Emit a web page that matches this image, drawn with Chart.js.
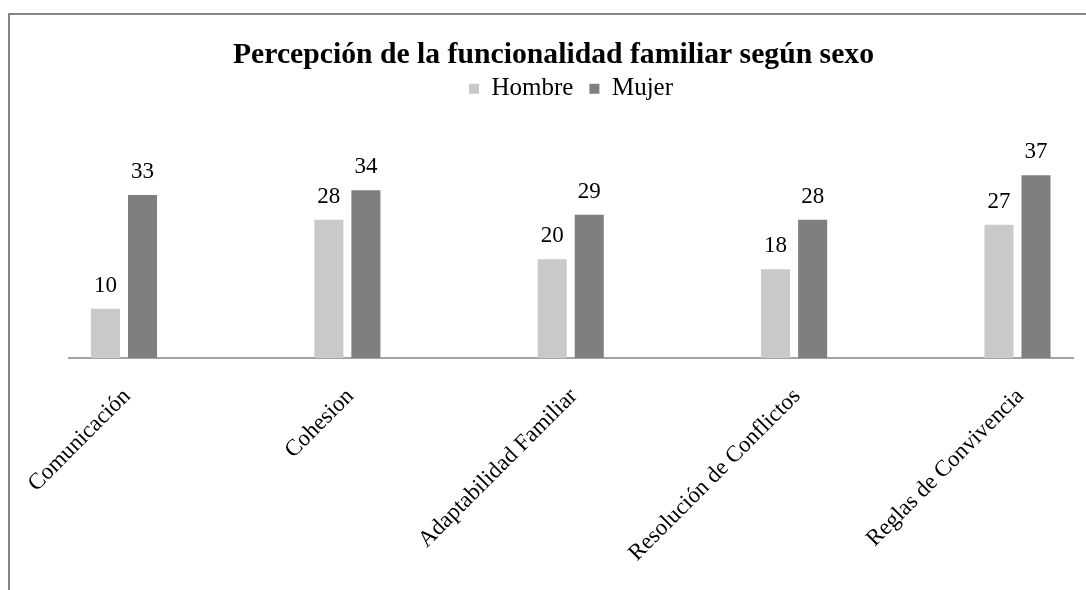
<!DOCTYPE html>
<html>
<head>
<meta charset="utf-8">
<script src="https://cdn.jsdelivr.net/npm/chart.js@4/dist/chart.umd.min.js"></script>
<style>
  html, body { margin: 0; padding: 0; background: #ffffff; }
  #wrap { width: 1086px; height: 590px; position: relative; }
</style>
</head>
<body>
<div id="wrap"><canvas id="chart" width="1086" height="590"></canvas></div>
<script>
// Categories, series values and texts
const categories = ['Comunicación', 'Cohesion', 'Adaptabilidad Familiar', 'Resolución de Conflictos', 'Reglas de Convivencia'];
const hombre = [10, 28, 20, 18, 27];
const mujer = [33, 34, 29, 28, 37];
const seriesNames = ['Hombre', 'Mujer'];
const titleText = 'Percepción de la funcionalidad familiar según sexo';

const SERIF = "'Liberation Serif', 'Times New Roman', serif";

// Thin grey frame around the chart object (top and left edges are visible)
const framePlugin = {
  id: 'frame',
  beforeDraw(chart) {
    const ctx = chart.ctx;
    ctx.save();
    ctx.fillStyle = '#ffffff';
    ctx.fillRect(0, 0, chart.width, chart.height);
    ctx.strokeStyle = '#868686';
    ctx.lineWidth = 2;
    ctx.beginPath();
    ctx.moveTo(9, chart.height);
    ctx.lineTo(9, 14);
    ctx.lineTo(chart.width, 14);
    ctx.stroke();
    ctx.restore();
  }
};

// Value printed above each bar
const valueLabels = {
  id: 'valueLabels',
  afterDatasetsDraw(chart) {
    const ctx = chart.ctx;
    ctx.save();
    ctx.font = '23px ' + SERIF;
    ctx.fillStyle = '#000000';
    ctx.textAlign = 'center';
    ctx.textBaseline = 'alphabetic';
    chart.data.datasets.forEach((ds, di) => {
      chart.getDatasetMeta(di).data.forEach((bar, i) => {
        ctx.fillText(String(ds.data[i].y), bar.x, bar.y - 17);
      });
    });
    ctx.restore();
  }
};

const toPoints = (vals) => vals.map((v, i) => ({ x: i, y: v }));

new Chart(document.getElementById('chart'), {
  type: 'bar',
  data: {
    datasets: [
      { label: seriesNames[0], data: toPoints(hombre), backgroundColor: '#c9c9c9', borderWidth: 0 },
      { label: seriesNames[1], data: toPoints(mujer), backgroundColor: '#7f7f7f', borderWidth: 0 }
    ]
  },
  options: {
    responsive: false,
    animation: false,
    devicePixelRatio: 1,
    categoryPercentage: 0.3315,
    barPercentage: 0.784,
    layout: { padding: { left: 34, right: 13, top: 20, bottom: 0 } },
    plugins: {
      title: {
        display: true,
        text: titleText,
        color: '#000000',
        font: { family: SERIF, size: 29.7, weight: 'bold' },
        padding: { top: 18, bottom: -13.5 }
      },
      legend: {
        display: true,
        position: 'top',
        fullSize: false,
        labels: {
          color: '#000000',
          font: { family: SERIF, size: 25 },
          boxWidth: 10,
          boxHeight: 10,
          padding: 16
        }
      },
      tooltip: { enabled: false }
    },
    scales: {
      x: {
        type: 'linear',
        min: -0.2462,
        max: 4.2485,
        offset: false,
        grid: { display: false, drawTicks: false },
        border: { display: true, color: '#a3a3a3', width: 2 },
        ticks: {
          stepSize: 1,
          includeBounds: false,
          autoSkip: false,
          minRotation: 45,
          maxRotation: 45,
          padding: 25,
          labelOffset: 3,
          color: '#000000',
          font: { family: SERIF, size: 23 },
          callback: (v) => (Number.isInteger(v) && categories[v] !== undefined ? categories[v] : '')
        },
        afterFit(scale) {
          scale.height = 232;
          scale.paddingLeft = 0;
          scale.paddingRight = 0;
        }
      },
      y: {
        display: true,
        min: 0,
        max: 50,
        grid: { display: false, drawTicks: false },
        border: { display: false },
        ticks: { display: false },
        afterFit(scale) {
          scale.width = 35;
        }
      }
    }
  },
  plugins: [framePlugin, valueLabels]
});
</script>
</body>
</html>
